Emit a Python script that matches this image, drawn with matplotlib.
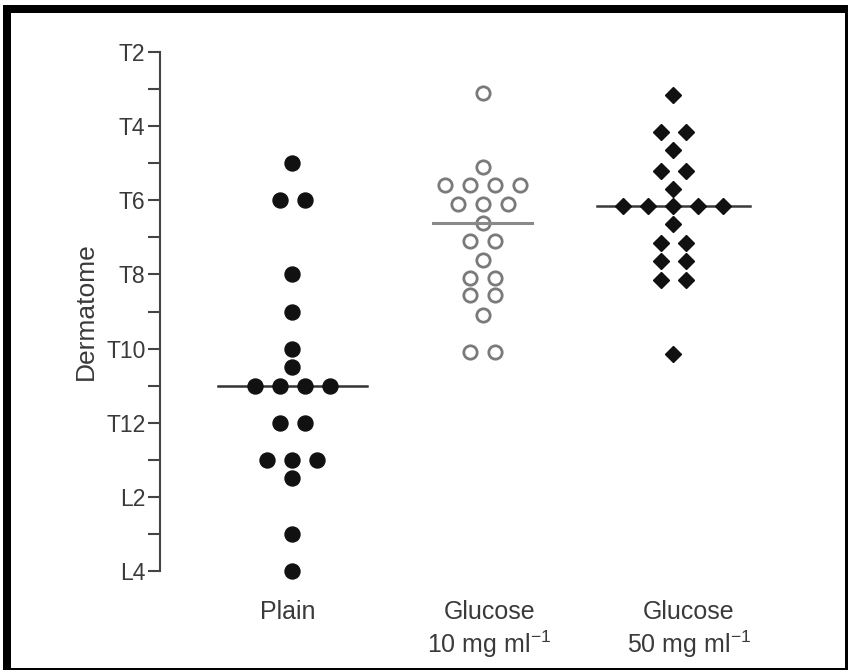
import matplotlib
matplotlib.use('Agg')
import matplotlib.pyplot as plt
from matplotlib.patches import Rectangle
from collections import Counter

plt.rcParams['font.family'] = ['Liberation Sans', 'DejaVu Sans']
plt.rcParams['mathtext.fontset'] = 'custom'
plt.rcParams['mathtext.rm'] = 'Liberation Sans'
plt.rcParams['mathtext.it'] = 'Liberation Sans:italic'

# Dermatome levels (T2=2 ... T12=12, L1=13 ... L4=16)
level_values = list(range(2, 17))
level_labels = ['T2', '', 'T4', '', 'T6', '', 'T8', '', 'T10', '', 'T12', '', 'L2', '', 'L4']

groups = ['Plain', 'Glucose\n10 mg ml$^{-1}$', 'Glucose\n50 mg ml$^{-1}$']

# block height per patient
plain = [5, 6, 6, 8, 9, 10, 10.5, 11, 11, 11, 11, 12, 12, 13, 13, 13, 13.5, 15, 16]
glucose10 = [3.1, 5.1, 5.6, 5.6, 5.6, 5.6, 6.1, 6.1, 6.1, 6.6, 7.1, 7.1, 7.6,
             8.1, 8.1, 8.55, 8.55, 9.1, 10.1, 10.1]
glucose50 = [3.15, 4.15, 4.15, 4.65, 5.2, 5.2, 5.7, 6.15, 6.15, 6.15, 6.15, 6.15,
             6.65, 7.15, 7.15, 7.65, 7.65, 8.15, 8.15, 10.15]
medians = [11, 6.6, 6.15]

W, H = 848, 671
fig = plt.figure(figsize=(W / 100, H / 100), dpi=100)

# axes placed so that T2 / L4 sit where the picture has them
ax_left, ax_right = 160, 800
ax_top, ax_bot = 52, 571
ax = fig.add_axes([ax_left / W, 1 - ax_bot / H, (ax_right - ax_left) / W, (ax_bot - ax_top) / H])

px_per_unit = 190.5
ax.set_xlim(-(292 - ax_left) / px_per_unit, 2 + (ax_right - 673) / px_per_unit)
ax.set_ylim(16, 2)

dx = 25 / px_per_unit
text_color = '#3a3a3a'


def spread(values):
    # put equal values side by side, centred on the column
    counts = Counter(values)
    seen = Counter()
    xs = []
    for v in values:
        n = counts[v]
        xs.append((seen[v] - (n - 1) / 2) * dx)
        seen[v] += 1
    return xs


line_half = [74.5 / px_per_unit, 49.5 / px_per_unit, 76.5 / px_per_unit]
line_colors = ['#333333', '#8a8a8a', '#3a3a3a']

# Plain: filled circles
xs = [0 + o for o in spread(plain)]
ax.plot([0 - line_half[0], 0 + line_half[0]], [medians[0]] * 2, color=line_colors[0], lw=1.8, zorder=2)
ax.plot(xs, plain, 'o', ms=10.8, color='#111111', mec='#111111', zorder=3, clip_on=False)

# Glucose 10: open circles
xs = [1 + o for o in spread(glucose10)]
ax.plot(xs, glucose10, 'o', ms=9.6, mfc='white', mec='#7a7a7a', mew=2.0, zorder=3, clip_on=False)
ax.plot([1 - line_half[1], 1 + line_half[1]], [medians[1]] * 2, color=line_colors[1], lw=2.2, zorder=4)

# Glucose 50: filled diamonds
xs = [2 + o for o in spread(glucose50)]
ax.plot([2 - line_half[2], 2 + line_half[2]], [medians[2]] * 2, color=line_colors[2], lw=1.8, zorder=2)
ax.plot(xs, glucose50, 'D', ms=8.6, color='#111111', zorder=3, clip_on=False)

# axes styling
for s in ['top', 'right', 'bottom']:
    ax.spines[s].set_visible(False)
ax.spines['left'].set_color('#444444')
ax.spines['left'].set_linewidth(1.5)
ax.spines['left'].set_bounds(2, 16)
ax.set_yticks(level_values)
ax.set_yticklabels(level_labels, fontsize=16.5, color=text_color)
ax.tick_params(axis='y', length=8.5, width=1.5, color='#444444', pad=2)
ax.set_xticks([])
ax.set_ylabel('Dermatome', fontsize=19, color=text_color, labelpad=6)
ax.patch.set_visible(False)

label_dx = [-4.5 / px_per_unit, 7 / px_per_unit, 16 / px_per_unit]
for i, g in enumerate(groups):
    ax.text(i + label_dx[i], -(600 - ax_bot) / (ax_bot - ax_top), g, transform=ax.get_xaxis_transform(),
            ha='center', va='top', fontsize=18, color=text_color, linespacing=1.2)

# black frame around the chart
def frame_rect(x0, y0, x1, y1):
    fig.add_artist(Rectangle((x0 / W, 1 - y1 / H), (x1 - x0) / W, (y1 - y0) / H,
                             transform=fig.transFigure, color='black', lw=0))

frame_rect(3, 5, 848, 13)
frame_rect(3, 5, 11, 670)
frame_rect(845, 5, 848, 670)
frame_rect(3, 668, 848, 670)

fig.savefig('out.png', dpi=100)
